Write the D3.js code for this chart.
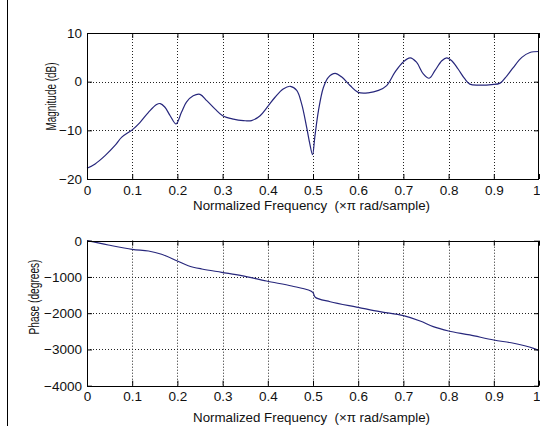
<!DOCTYPE html>
<html>
<head>
<meta charset="utf-8">
<script src="https://cdn.jsdelivr.net/npm/d3@7"></script>
<style>
  html, body { margin: 0; padding: 0; background: #fff; }
  svg { display: block; }
  text { font-family: "Liberation Sans", Arial, Helvetica, sans-serif; fill: #111; }
</style>
</head>
<body>
<svg id="chart" width="540" height="426"></svg>
<script>
// Normalized frequency (×π rad/sample) and magnitude response in dB
const magFreq = [0, 0.018, 0.04, 0.062, 0.077, 0.1, 0.117, 0.136, 0.154, 0.162, 0.172, 0.184, 0.197,
  0.209, 0.22, 0.235, 0.25, 0.265, 0.283, 0.3, 0.324, 0.346, 0.364, 0.383, 0.4, 0.416, 0.434, 0.45,
  0.464, 0.475, 0.486, 0.493, 0.499, 0.504, 0.512, 0.523, 0.534, 0.549, 0.563, 0.582, 0.6, 0.622,
  0.645, 0.663, 0.681, 0.699, 0.715, 0.729, 0.744, 0.757, 0.77, 0.785, 0.796, 0.807, 0.821, 0.836,
  0.847, 0.866, 0.895, 0.914, 0.929, 0.943, 0.962, 0.98, 1.0];
const magDb = [-17.8, -16.9, -15.2, -13.1, -11.4, -9.9, -8.4, -6.3, -4.7, -4.5, -5.2, -7.0, -8.7,
  -6.3, -4.2, -2.9, -2.6, -3.9, -5.6, -7.0, -7.7, -8.0, -8.0, -7.0, -5.1, -3.2, -1.5, -0.95,
  -1.8, -4.6, -9.4, -12.8, -15.0, -11.4, -6.0, -1.2, 0.9, 1.7, 1.0, -0.8, -2.2, -2.3,
  -1.8, -0.8, 1.9, 4.0, 4.9, 4.0, 1.6, 0.7, 2.3, 4.3, 4.9, 4.3, 2.6, 0.55,
  -0.5, -0.7, -0.6, -0.3, 1.2, 2.9, 5.0, 6.0, 6.2];

// Phase response in degrees
const phaseFreq = [0, 0.047, 0.1, 0.136, 0.165, 0.2, 0.224, 0.254, 0.298, 0.342, 0.397, 0.453, 0.49,
  0.5, 0.505, 0.538, 0.6, 0.648, 0.7, 0.737, 0.766, 0.8, 0.847, 0.9, 0.944, 0.988, 1.0];
const phaseDeg = [0, -119, -238, -284, -375, -560, -690, -780, -873, -965, -1112, -1250, -1360,
  -1430, -1560, -1683, -1838, -1958, -2068, -2215, -2372, -2490, -2600, -2740, -2830, -2970, -3030];

// Tick values
const freqTicks = [0, 0.1, 0.2, 0.3, 0.4, 0.5, 0.6, 0.7, 0.8, 0.9, 1];
const magTicks = [-20, -10, 0, 10];
const phaseTicks = [-4000, -3000, -2000, -1000, 0];

const xLabel = "Normalized Frequency  (\u00d7\u03c0 rad/sample)";

const svg = d3.select("#chart");
const lineColor = "#27277c";
const fontSize = 13.5;

// window edge line on the left
svg.append("line")
  .attr("x1", 7.5).attr("x2", 7.5).attr("y1", 0).attr("y2", 426)
  .attr("stroke", "#000").attr("stroke-width", 1);

function panel(opts) {
  const x = d3.scaleLinear().domain([0, 1]).range([87, 539]);
  const y = d3.scaleLinear().domain(opts.yDomain).range([opts.bottom, opts.top]);
  const g = svg.append("g");

  // dotted grid
  g.selectAll(".gx").data(freqTicks.slice(1, -1)).join("line")
    .attr("x1", d => Math.round(x(d)) + 0.5).attr("x2", d => Math.round(x(d)) + 0.5)
    .attr("y1", opts.top).attr("y2", opts.bottom)
    .attr("stroke", "#222").attr("stroke-width", 1).attr("stroke-dasharray", "1,2");
  g.selectAll(".gy").data(opts.yTicks.slice(1, -1)).join("line")
    .attr("y1", d => Math.round(y(d)) + 0.5).attr("y2", d => Math.round(y(d)) + 0.5)
    .attr("x1", 87).attr("x2", 539)
    .attr("stroke", "#222").attr("stroke-width", 1).attr("stroke-dasharray", "1,2");

  // curve
  const pts = opts.xs.map((f, i) => [f, opts.ys[i]]);
  g.append("path")
    .datum(pts)
    .attr("fill", "none")
    .attr("stroke", lineColor)
    .attr("stroke-width", 1.2)
    .attr("d", d3.line().x(d => x(d[0])).y(d => y(d[1])).curve(d3.curveCatmullRom.alpha(0.5)));

  // axes with inward ticks on all four sides
  const styleAxis = sel => {
    sel.selectAll("path.domain").remove();
    sel.selectAll("line").attr("stroke", "#000");
    sel.selectAll("text")
      .style("font-family", '"Liberation Sans", Arial, sans-serif')
      .attr("font-size", fontSize).attr("fill", "#111");
  };
  const bottomAxis = g.append("g").attr("transform", `translate(0,${opts.bottom})`)
    .call(d3.axisBottom(x).tickValues(freqTicks).tickFormat(d3.format("")).tickSizeInner(-5).tickSizeOuter(0).tickPadding(6))
    .call(styleAxis).attr("font-family", null).attr("font-size", null);
  // the last label sits against the right edge of the figure
  bottomAxis.selectAll(".tick text").filter(d => d === 1).attr("text-anchor", "end").attr("dx", 1);
  g.append("g").attr("transform", `translate(0,${opts.top})`)
    .call(d3.axisTop(x).tickValues(freqTicks).tickFormat("").tickSizeInner(-5).tickSizeOuter(0))
    .call(styleAxis);
  g.append("g").attr("transform", "translate(87,0)")
    .call(d3.axisLeft(y).tickValues(opts.yTicks).tickFormat(d3.format("d")).tickSizeInner(-5).tickSizeOuter(0).tickPadding(5))
    .call(styleAxis).attr("font-family", null).attr("font-size", null);
  g.append("g").attr("transform", "translate(539,0)")
    .call(d3.axisRight(y).tickValues(opts.yTicks).tickFormat("").tickSizeInner(-5).tickSizeOuter(0))
    .call(styleAxis);

  // box
  g.append("rect")
    .attr("x", 87.5).attr("y", Math.round(opts.top) + 0.5)
    .attr("width", 451).attr("height", Math.round(opts.bottom) - Math.round(opts.top))
    .attr("fill", "none").attr("stroke", "#000").attr("stroke-width", 1);

  // x label
  g.append("text")
    .attr("x", 193).attr("y", opts.xLabelY)
    .attr("font-size", fontSize)
    .style("white-space", "pre")
    .attr("textLength", 237).attr("lengthAdjust", "spacingAndGlyphs")
    .text(xLabel);

  // y label
  g.append("text")
    .attr("transform", `translate(${opts.yLabelX},${opts.yLabelY}) rotate(-90)`)
    .attr("text-anchor", "middle")
    .attr("font-size", 14)
    .attr("textLength", opts.yLabelLen).attr("lengthAdjust", "spacingAndGlyphs")
    .text(opts.yLabel);
}

panel({
  top: 33, bottom: 179, yDomain: [-20, 10], yTicks: magTicks,
  xs: magFreq, ys: magDb,
  xLabelY: 209.5, yLabel: "Magnitude (dB)", yLabelX: 55.5, yLabelY: 96.5, yLabelLen: 68
});

panel({
  top: 240.7, bottom: 385.7, yDomain: [-4000, 0], yTicks: phaseTicks,
  xs: phaseFreq, ys: phaseDeg,
  xLabelY: 421.5, yLabel: "Phase (degrees)", yLabelX: 38.5, yLabelY: 297, yLabelLen: 75
});
</script>
</body>
</html>
